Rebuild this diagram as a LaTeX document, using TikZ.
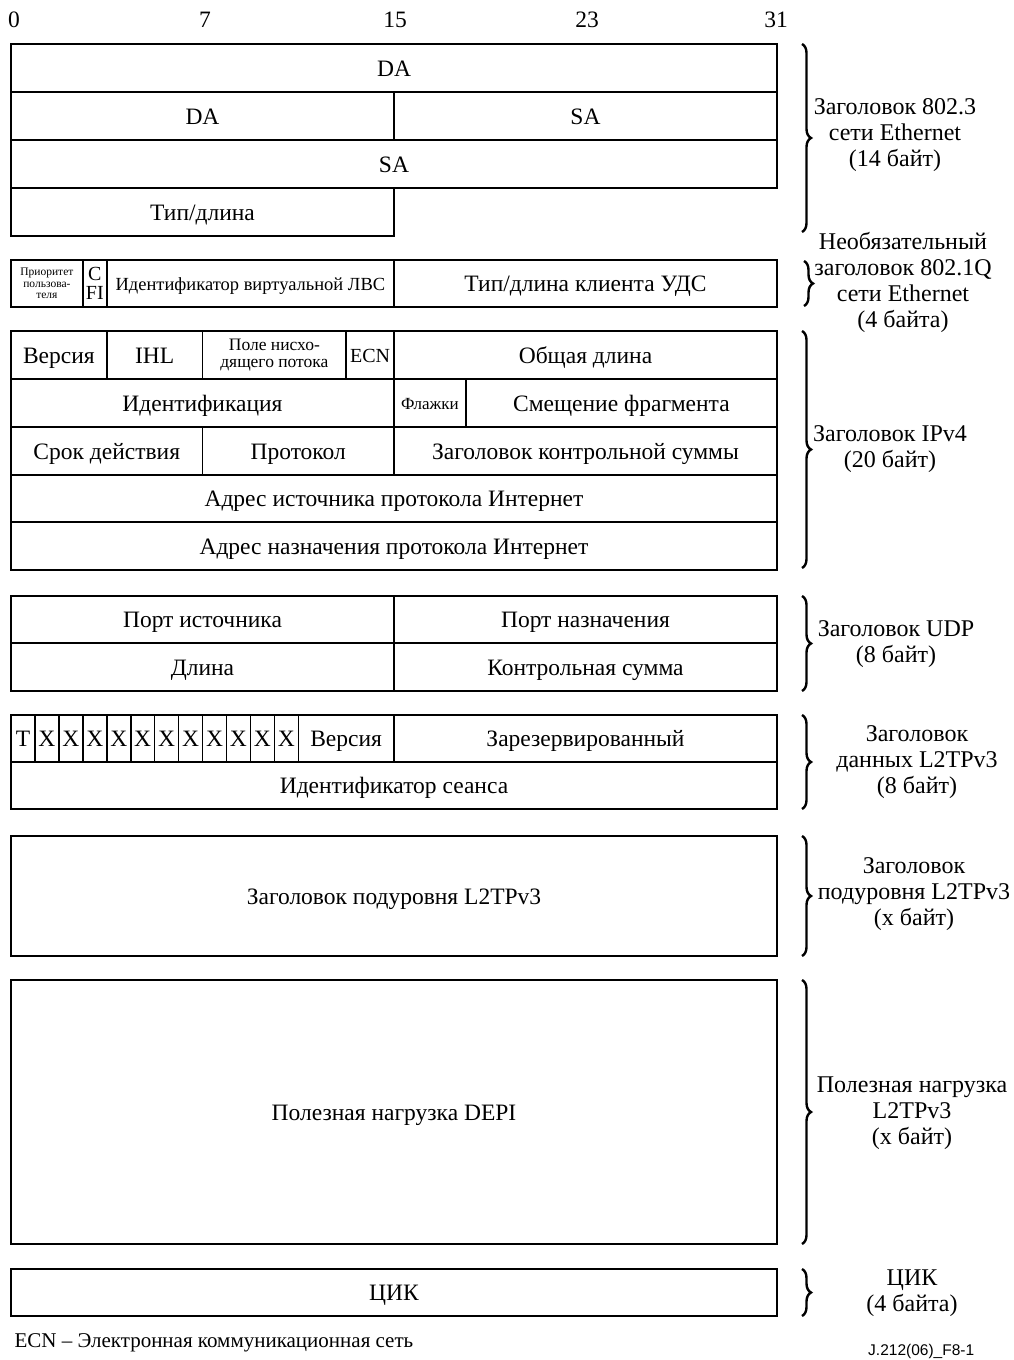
\documentclass[tikz,border=0pt]{standalone}
\usepackage{fontspec}
\setmainfont{Liberation Serif}
\newfontfamily\codefont{Liberation Sans}
\usetikzlibrary{decorations.pathreplacing}
% one field of a header: [style]{name}{left}{top}{right}{bottom}{text}
\newcommand\fld[7][]{%
  \pgfmathsetmacro\fldw{#5-#3}\pgfmathsetmacro\fldh{#6-#4}%
  \node[cell,#1,minimum width=\fldw pt,minimum height=\fldh pt] (#2)
    at ({(#3+#5)/2},{(#4+#6)/2}) {#7};}
\begin{document}
\begin{tikzpicture}[x=1pt,y=-1pt,
  cell/.style={draw, line width=1.6pt, inner sep=0pt, align=center,
    text height=19pt, text depth=3pt,
    font=\fontsize{23.5}{26}\selectfont},
  multi/.style={text height=, text depth=},
  tiny/.style={multi, font=\fontsize{11.5}{11.5}\selectfont},
  small/.style={multi, font=\fontsize{17.5}{17}\selectfont},
  flag/.style={text height=14pt, text depth=2pt, font=\fontsize{17}{17}\selectfont},
  mid/.style={text height=16pt, text depth=2pt, font=\fontsize{20}{20}\selectfont},
  cfibox/.style={multi, font=\fontsize{20}{19}\selectfont},
  vlan/.style={text height=16pt, text depth=2pt, font=\fontsize{18.5}{20}\selectfont},
  bitno/.style={font=\fontsize{23.5}{26}\selectfont},
  grp/.style={decorate, decoration={brace, amplitude=9pt, aspect=0.5},
    line width=2.4pt},
  grplabel/.style={align=center, font=\fontsize{24}{26}\selectfont}]
\useasboundingbox (0,0) rectangle (1014,1360);

% bit numbers
\node[bitno] (n0)  at (14,20)  {0};
\node[bitno] (n7)  at (205,20) {7};
\node[bitno] (n15) at (395,20) {15};
\node[bitno] (n23) at (587,20) {23};
\node[bitno] (n31) at (776,20) {31};

% 802.3 Ethernet header
\fld{da1}{11}{44}{777}{92}{DA}
\fld{da2}{11}{92}{394}{140}{DA}
\fld{sa1}{394}{92}{777}{140}{SA}
\fld{sa2}{11}{140}{777}{188}{SA}
\fld{tl}{11}{188}{394}{236}{Тип/длина}

% 802.1Q tag
\fld[tiny]{prio}{11}{260}{82.8}{307}{Приоритет\\пользова-\\теля}
\fld[cfibox]{cfi}{82.8}{260}{106.8}{307}{C\\FI}
\fld[vlan]{vid}{106.8}{260}{394}{307}{Идентификатор виртуальной ЛВС}
\fld{ctl}{394}{260}{777}{307}{Тип/длина клиента УДС}

% IPv4 header
\fld{ver}{11}{331}{106.8}{379}{Версия}
\fld{ihl}{106.8}{331}{202.5}{379}{IHL}
\fld[small]{dscp}{202.5}{331}{346.2}{379}{Поле нисхо-\\дящего потока}
\fld[mid]{ecn}{346.2}{331}{394}{379}{ECN}
\fld{tot}{394}{331}{777}{379}{Общая длина}
\fld{ident}{11}{379}{394}{427}{Идентификация}
\fld[flag]{flags}{394}{379}{465.8}{427}{Флажки}
\fld{frag}{465.8}{379}{777}{427}{Смещение фрагмента}
\fld{ttl}{11}{427}{202.5}{475}{Срок действия}
\fld{proto}{202.5}{427}{394}{475}{Протокол}
\fld{csum}{394}{427}{777}{475}{Заголовок контрольной суммы}
\fld{src}{11}{475}{777}{522}{Адрес источника протокола Интернет}
\fld{dst}{11}{522}{777}{570}{Адрес назначения протокола Интернет}

% UDP header
\fld{sport}{11}{596}{394}{643}{Порт источника}
\fld{dport}{394}{596}{777}{643}{Порт назначения}
\fld{ulen}{11}{643}{394}{691}{Длина}
\fld{usum}{394}{643}{777}{691}{Контрольная сумма}

% L2TPv3 data header
\fld{tb}{11}{715}{34.9}{762}{T}
\fld{x1}{34.9}{715}{58.9}{762}{X}
\fld{x2}{58.9}{715}{82.8}{762}{X}
\fld{x3}{82.8}{715}{106.8}{762}{X}
\fld{x4}{106.8}{715}{130.7}{762}{X}
\fld{x5}{130.7}{715}{154.6}{762}{X}
\fld{x6}{154.6}{715}{178.6}{762}{X}
\fld{x7}{178.6}{715}{202.5}{762}{X}
\fld{x8}{202.5}{715}{226.5}{762}{X}
\fld{x9}{226.5}{715}{250.4}{762}{X}
\fld{x10}{250.4}{715}{274.3}{762}{X}
\fld{x11}{274.3}{715}{298.3}{762}{X}
\fld{lver}{298.3}{715}{394}{762}{Версия}
\fld{rsv}{394}{715}{777}{762}{Зарезервированный}
\fld{sid}{11}{762}{777}{809}{Идентификатор сеанса}

% sublayer, payload, CRC
\fld{sub}{11}{836}{777}{956}{Заголовок подуровня L2TPv3}
\fld{pay}{11}{980}{777}{1244}{Полезная нагрузка DEPI}
\fld{crc}{11}{1269}{777}{1316}{ЦИК}

% group braces and their labels
\draw[grp] (802,44) -- (802,232);
\node[grplabel] (g1) at (895,135) {Заголовок 802.3\\сети Ethernet\\(14 байт)};
\draw[grp] (804,261) -- (804,306);
\node[grplabel] (g2) at (903,282) {Необязательный\\заголовок 802.1Q\\сети Ethernet\\(4 байта)};
\draw[grp] (802,331) -- (802,568);
\node[grplabel] (g3) at (890,449) {Заголовок IPv4\\(20 байт)};
\draw[grp] (802,596) -- (802,691);
\node[grplabel] (g4) at (896,644) {Заголовок UDP\\(8 байт)};
\draw[grp] (802,715) -- (802,809);
\node[grplabel] (g5) at (917,762) {Заголовок\\данных L2TPv3\\(8 байт)};
\draw[grp] (802,836) -- (802,956);
\node[grplabel] (g6) at (914,894) {Заголовок\\подуровня L2TPv3\\(x байт)};
\draw[grp] (802,980) -- (802,1244);
\node[grplabel] (g7) at (912,1113) {Полезная нагрузка\\L2TPv3\\(x байт)};
\draw[grp] (802,1269) -- (802,1316);
\node[grplabel] (g8) at (912,1293) {ЦИК\\(4 байта)};

% footnote and figure code
\node[anchor=west, font=\fontsize{21}{22}\selectfont] (note) at (11,1343) {ECN – Электронная коммуникационная сеть};
\node[anchor=base west, inner sep=0pt, font=\codefont\fontsize{15.5}{16}\selectfont] (code) at (868,1355) {J.212(06)\_F8-1};
\end{tikzpicture}
\end{document}
